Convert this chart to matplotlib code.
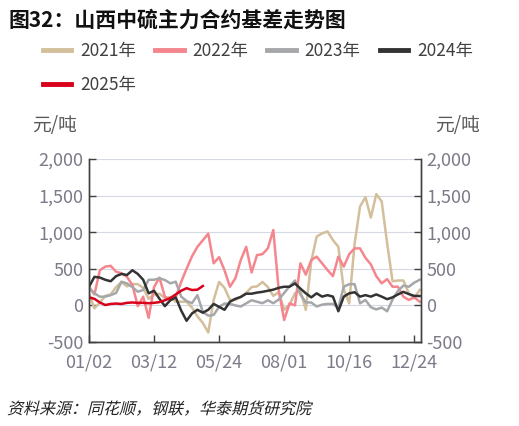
"""
山西中硫主力合约基差走势图 (basis by year, 2021-2025)
"""

import matplotlib

matplotlib.use("Agg")
import matplotlib.pyplot as plt
import numpy as np
from matplotlib.font_manager import FontProperties
from matplotlib.lines import Line2D
from matplotlib.patches import PathPatch
from matplotlib.textpath import TextPath
from matplotlib.ticker import FuncFormatter, MultipleLocator
from matplotlib.transforms import Affine2D

plt.rcParams["font.family"] = ["Noto Sans CJK SC", "DejaVu Sans"]

# x axis: trading-day index, one value every 4 trading days
step = 4
tick_pos = [0, 48, 96, 144, 192, 240]
tick_labels = ["01/02", "03/12", "05/24", "08/01", "10/16", "12/24"]

basis_2021 = [165, -40, 40, 130, 150, 250, 320, 260, 290, 290, 240, 90, 150, 160, 100, 115,
              50, 50, 50, -30, -150, -240, -370, 74, 320, 240, 74, 74, 120, 170, 250, 260,
              320, 250, 130, 180, -60, 10, 165, 200, -60, 600, 940, 984, 1010, 893, 800, 220,
              28, 840, 1350, 1480, 1200, 1520, 1420, 850, 330, 340, 340, 165, 100, 210]
basis_2022 = [255, 150, 480, 530, 540, 460, 440, 390, 280, -10, 119, -170, 250, 380, 119, 74,
              110, 320, 500, 670, 800, 890, 980, 575, 660, 480, 255, 370, 620, 800, 450, 688,
              700, 780, 1030, 210, -200, 28, 0, 575, 420, 620, 666, 575, 483, 400, 666, 530,
              700, 779, 779, 650, 560, 400, 301, 360, 255, 255, 119, 74, 110, 50]
basis_2023 = [233, 165, 119, 120, 140, 170, 324, 300, 250, 187, 210, 350, 350, 370, 347, 301,
              324, 120, 60, 30, 140, -90, -140, -130, -20, 25, 20, 0, -15, 28, 70, 50,
              30, 70, 30, 80, 170, 260, 340, 150, 40, 40, -15, 10, 20, 20, -30, 255,
              290, 290, 28, 74, -25, -55, -30, -80, 80, 200, 270, 255, 310, 350]
basis_2024 = [255, 390, 380, 350, 330, 400, 430, 415, 480, 430, 350, 165, 200, 90, -10, 70,
              110, -70, -210, -110, -60, -100, -60, 20, -20, -60, 50, 90, 115, 160, 160, 175,
              185, 200, 215, 240, 255, 255, 300, 230, 165, 110, 165, 120, 140, 120, -80, 120,
              165, 180, 120, 140, 120, 150, 120, 85, 110, 150, 185, 155, 130, 128]
basis_2025 = [110, 90, 40, 5, 20, 25, 20, 35, 40, 35, 35, 30, 35, 45, 70, 100,
              150, 200, 235, 210, 215, 265]

series = [
    ("2021年", basis_2021, "#d3bf9b"),
    ("2022年", basis_2022, "#f5868d"),
    ("2023年", basis_2023, "#a5a7aa"),
    ("2024年", basis_2024, "#333333"),
    ("2025年", basis_2025, "#d9001b"),
]

W, H = 519, 426
fig = plt.figure(figsize=(W / 100, H / 100), dpi=100)
ax = fig.add_axes([89 / W, 1 - 342 / H, 332 / W, 183 / H])

for name, vals, color in series:
    x = np.arange(len(vals)) * step
    ax.plot(x, vals, color=color, linewidth=1.8, label=name)

ax.set_xlim(0, 245)
ax.set_ylim(-500, 2000)
ax.yaxis.set_major_locator(MultipleLocator(500))
ax.set_xticks(tick_pos)
ax.set_xticklabels(tick_labels)

fmt = FuncFormatter(lambda v, p: f"{int(v):,}")
ax.yaxis.set_major_formatter(fmt)
ax.grid(axis="y", color="#d5d9e6", linewidth=0.8)
ax.set_axisbelow(True)

ax2 = ax.twinx()
ax2.set_ylim(-500, 2000)
ax2.yaxis.set_major_locator(MultipleLocator(500))
ax2.yaxis.set_major_formatter(fmt)

label_color = "#7b7b89"
for a in (ax, ax2):
    a.spines["top"].set_visible(False)
    for s in ("left", "right", "bottom"):
        a.spines[s].set_color("#404040")
        a.spines[s].set_linewidth(1.0)
    a.tick_params(direction="in", length=5, width=1.0, color="#404040",
                  labelsize=13, labelcolor=label_color, pad=4)
ax.tick_params(axis="x", pad=8)

fig.text(32 / W, 1 - 125 / H, "元/吨", fontsize=13.5, color="#595959", va="center")
fig.text(435 / W, 1 - 125 / H, "元/吨", fontsize=13.5, color="#595959", va="center")

fig.text(8 / W, 1 - 20 / H, "图32：山西中硫主力合约基差走势图", fontsize=15,
         fontweight="bold", color="#111111", va="center")

# legend is filled column by column, so put 2025 right after 2021
order = [0, 4, 1, 2, 3]
handles = [Line2D([], [], color=series[i][2], linewidth=3.5) for i in order]
fig.legend(handles, [series[i][0] for i in order], ncol=4, loc="upper left",
           bbox_to_anchor=(27 / W, 1 - 26 / H), frameon=False, fontsize=12.5,
           handlelength=1.65, handletextpad=0.5, columnspacing=1.1, labelspacing=0.95,
           labelcolor="#404040")

# source note, slanted by hand since the CJK font has no italic
src_prop = FontProperties(family="Noto Sans CJK SC")
tp = TextPath((0, 0), "资料来源：同花顺，钢联，华泰期货研究院", size=16, prop=src_prop)
tr = Affine2D().skew_deg(14, 0).translate(7, 12)
fig.patches.append(PathPatch(tr.transform_path(tp), facecolor="#222222", edgecolor="none",
                             transform=None, figure=fig))

fig.savefig("out.png", dpi=100)
